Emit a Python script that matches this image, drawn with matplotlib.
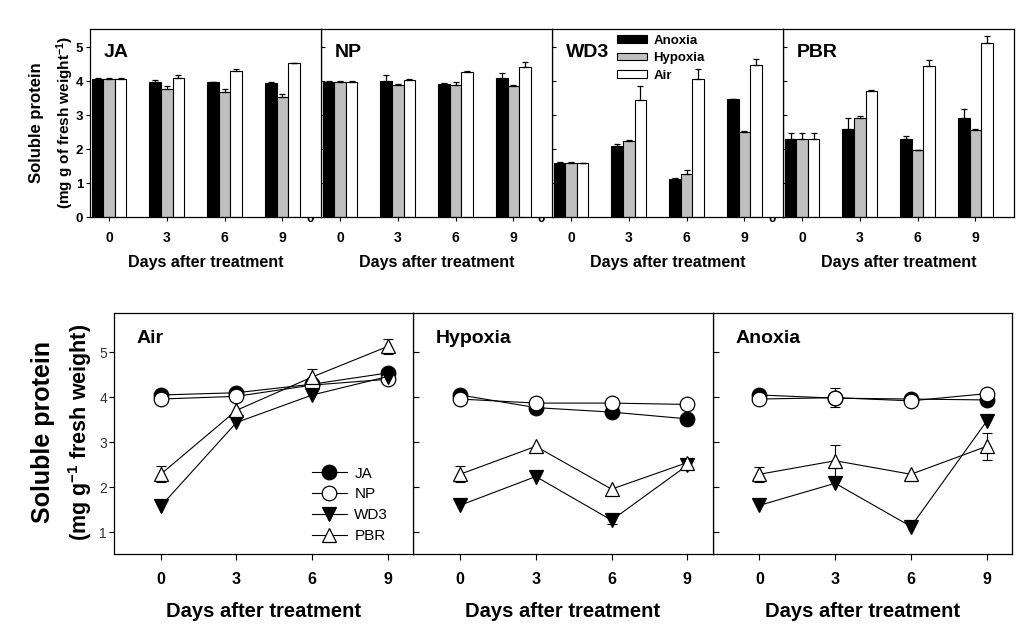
import numpy as np
import matplotlib
matplotlib.use('Agg')
import matplotlib.pyplot as plt
from matplotlib.patches import Patch

plt.rcParams['font.family'] = ['Liberation Sans', 'DejaVu Sans']
plt.rcParams['mathtext.fontset'] = 'custom'
plt.rcParams['mathtext.rm'] = 'Liberation Sans'
plt.rcParams['mathtext.bf'] = 'Liberation Sans:bold'
plt.rcParams['mathtext.default'] = 'bf'

# ---------------- data ----------------
days = [0, 3, 6, 9]
genotypes = ['JA', 'NP', 'WD3', 'PBR']
treatments = ['Anoxia', 'Hypoxia', 'Air']
line_panels = ['Air', 'Hypoxia', 'Anoxia']

# rows: JA, NP, WD3, PBR ; columns: day 0, 3, 6, 9
anoxia_mean = [[4.05, 3.98, 3.96, 3.94],
               [3.96, 3.99, 3.92, 4.08],
               [1.60, 2.09, 1.13, 3.47],
               [2.29, 2.59, 2.29, 2.91]]
hypoxia_mean = [[4.05, 3.77, 3.67, 3.52],
                [3.96, 3.87, 3.87, 3.84],
                [1.60, 2.24, 1.27, 2.49],
                [2.29, 2.91, 1.96, 2.55]]
air_mean = [[4.05, 4.10, 4.29, 4.54],
            [3.96, 4.02, 4.27, 4.40],
            [1.58, 3.44, 4.05, 4.46],
            [2.29, 3.71, 4.45, 5.13]]

anoxia_err = [[0.05, 0.05, 0.02, 0.02],
              [0.05, 0.20, 0.02, 0.15],
              [0.02, 0.05, 0.02, 0.00],
              [0.17, 0.32, 0.08, 0.28]]
hypoxia_err = [[0.05, 0.08, 0.10, 0.10],
               [0.05, 0.04, 0.10, 0.05],
               [0.02, 0.02, 0.10, 0.05],
               [0.17, 0.05, 0.02, 0.05]]
air_err = [[0.05, 0.08, 0.05, 0.00],
           [0.05, 0.05, 0.02, 0.15],
           [0.02, 0.40, 0.30, 0.20],
           [0.17, 0.02, 0.18, 0.18]]

# error bars visible in the line plots
air_line_err = [[0, 0, 0, 0], [0, 0, 0, 0], [0, 0, 0, 0], [0.18, 0, 0.18, 0.16]]
hypoxia_line_err = [[0, 0, 0, 0], [0, 0, 0, 0], [0, 0, 0.08, 0], [0.18, 0, 0, 0]]
anoxia_line_err = [[0, 0, 0, 0], [0, 0.21, 0, 0], [0, 0, 0, 0], [0.17, 0.35, 0, 0.30]]

# ---------------- layout ----------------
W, H = 1035, 632
fig = plt.figure(figsize=(W / 100, H / 100), dpi=100)


def rect(left, top, right, bottom):
    return [left / W, 1 - bottom / H, (right - left) / W, (bottom - top) / H]


bar_colors = ['black', '#c0c0c0', 'white']
bar_means = [anoxia_mean, hypoxia_mean, air_mean]
bar_errs = [anoxia_err, hypoxia_err, air_err]
idx = np.arange(len(days))
bw = 0.2

top_lefts = [90, 321, 552, 783]
top_axes = {}
for gi in reversed(range(4)):
    l = top_lefts[gi]
    ax = fig.add_axes(rect(l, 29, l + 231, 217))
    top_axes[gi] = ax
    for ti in range(3):
        err = np.array(bar_errs[ti][gi])
        ax.bar(idx + (ti - 1) * bw, bar_means[ti][gi], bw, color=bar_colors[ti],
               edgecolor='black', linewidth=0.8,
               yerr=[np.zeros_like(err), err],
               error_kw=dict(capsize=2.5, elinewidth=0.9, capthick=0.9, ecolor='black'))
    ax.set_xlim(-0.33, 3.67)
    ax.set_ylim(0, 5.53)
    ax.set_xticks(idx, labels=[str(d) for d in days])
    ax.set_yticks([0, 1, 2, 3, 4, 5])
    ax.tick_params(axis='x', direction='out', length=3, width=0.8, pad=7, labelsize=10)
    if gi == 0:
        ax.tick_params(axis='y', direction='out', length=3, width=0.8, pad=2, labelsize=9.5)
    else:
        ax.tick_params(axis='y', direction='in', length=3, width=0.8, pad=5, labelsize=9.5)
    for lbl in ax.get_xticklabels() + ax.get_yticklabels():
        lbl.set_fontweight('bold')
    for s in ax.spines.values():
        s.set_linewidth(0.9)
    ax.text(0.06, 0.875, genotypes[gi], transform=ax.transAxes, fontsize=14,
            fontweight='bold', ha='left', va='center')
    ax.set_xlabel('Days after treatment', fontsize=11.5, fontweight='bold', labelpad=7)

top_axes[2].legend(handles=[Patch(facecolor=c, edgecolor='black', linewidth=0.8) for c in bar_colors],
                   labels=treatments, loc='upper left', bbox_to_anchor=(0.28, 0.97),
                   frameon=False, prop=dict(weight='bold', size=9.5), handlelength=2.3,
                   handleheight=0.5, handletextpad=0.5, labelspacing=0.42,
                   borderpad=0, borderaxespad=0)

fig.text(36 / W, 1 - 123 / H, 'Soluble protein', rotation=90, ha='center', va='center',
         fontsize=12, fontweight='bold')
fig.text(65 / W, 1 - 122 / H, '(mg g of fresh weight$^{-1}$)', rotation=90, ha='center',
         va='center', fontsize=11, fontweight='bold')

# ---------------- line plots ----------------
line_means = [air_mean, hypoxia_mean, anoxia_mean]
line_errs = [air_line_err, hypoxia_line_err, anoxia_line_err]
markers = ['o', 'o', 'v', '^']
faces = ['black', 'white', 'black', 'white']
bot_lefts = [114, 413.3, 712.7]
bot_axes = {}
for pi in reversed(range(3)):
    l = bot_lefts[pi]
    ax = fig.add_axes(rect(l, 313, l + 299.3, 554))
    bot_axes[pi] = ax
    for gi in range(4):
        y = np.array(line_means[pi][gi])
        e = np.array(line_errs[pi][gi])
        m = e > 0
        if m.any():
            ax.errorbar(np.array(days)[m], y[m], yerr=e[m], fmt='none', ecolor='black',
                        elinewidth=0.8, capsize=3.5, capthick=0.8, zorder=2.5)
        ax.plot(days, y, color='black', linewidth=0.8, marker=markers[gi], markersize=10.5,
                markerfacecolor=faces[gi], markeredgecolor='black', markeredgewidth=0.9,
                label=genotypes[gi], zorder=3)
    ax.set_xlim(-1.85, 10.0)
    ax.set_ylim(0.52, 5.87)
    ax.set_xticks(days)
    ax.set_yticks([1, 2, 3, 4, 5])
    ax.tick_params(axis='x', direction='out', length=4, width=0.8, pad=9, labelsize=11.5)
    for lbl in ax.get_xticklabels():
        lbl.set_fontweight('bold')
    if pi == 0:
        ax.tick_params(axis='y', direction='out', length=3.5, width=0.8, pad=1.5,
                       labelsize=10, labelcolor='#333333')
    else:
        ax.tick_params(axis='y', direction='in', length=4, width=0.8, labelleft=False)
    for s in ax.spines.values():
        s.set_linewidth(0.9)
    ax.text(0.075, 0.895, line_panels[pi], transform=ax.transAxes, fontsize=14,
            fontweight='bold', ha='left', va='center')
    ax.set_xlabel('Days after treatment', fontsize=14.5, fontweight='bold', labelpad=11)

bot_axes[0].legend(loc='lower left', bbox_to_anchor=(0.66, 0.045), frameon=False,
                   fontsize=11, handlelength=2.3, handletextpad=0.5, labelspacing=0.45,
                   borderpad=0, borderaxespad=0, numpoints=1)

fig.text(43 / W, 1 - 432 / H, 'Soluble protein', rotation=90, ha='center', va='center',
         fontsize=18, fontweight='bold')
fig.text(80 / W, 1 - 432 / H, '(mg g$^{-1}$ fresh weight)', rotation=90, ha='center',
         va='center', fontsize=15.5, fontweight='bold')

fig.savefig('out.png', dpi=100)
